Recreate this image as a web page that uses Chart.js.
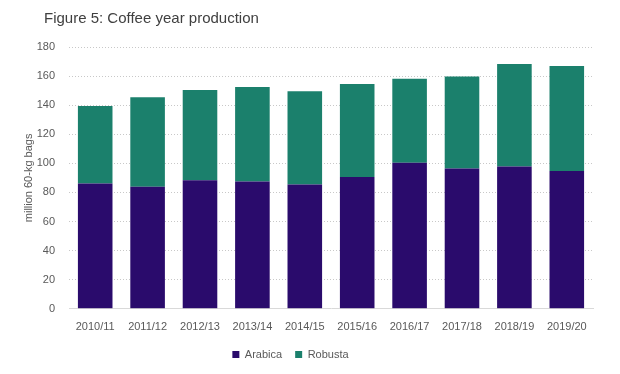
<!DOCTYPE html>
<html>
<head>
<meta charset="utf-8">
<script src="https://cdn.jsdelivr.net/npm/chart.js@4"></script>
<style>
  html, body { margin: 0; padding: 0; background: #fff; }
  #wrap { width: 620px; height: 374px; }
</style>
</head>
<body>
<div id="wrap"><canvas id="coffeeChart" width="620" height="374"></canvas></div>
<script>
// Dados (milhões de sacas de 60 kg)
const seasons = ['2010/11', '2011/12', '2012/13', '2013/14', '2014/15', '2015/16', '2016/17', '2017/18', '2018/19', '2019/20'];
const arabica = [86.1, 84.0, 88.4, 87.5, 85.4, 90.7, 100.5, 96.4, 97.8, 94.8];
const robusta = [53.4, 61.4, 62.0, 65.0, 64.1, 63.9, 57.7, 63.4, 70.5, 72.1];
const yTicks = [0, 20, 40, 60, 80, 100, 120, 140, 160, 180];

const fontFamily = '"Liberation Sans", Arial, sans-serif';
const textColor = '#595959';

// Ajusta a posição do título e da legenda, como no original
const blockShift = {
  id: 'blockShift',
  afterLayout(chart) {
    if (chart.legend) {
      chart.legend.right -= 12;
      chart.legend.top -= 4;
      chart.legend.bottom -= 4;
    }
    if (chart.titleBlock) chart.titleBlock.left += 44;
  }
};

const config = {
  type: 'bar',
  data: {
    labels: seasons,
    datasets: [
      {
        label: 'Arabica',
        data: arabica,
        backgroundColor: '#2a0b6c',
        borderWidth: 0,
        categoryPercentage: 1,
        barPercentage: 0.66
      },
      {
        label: 'Robusta',
        data: robusta,
        backgroundColor: '#1b806c',
        borderWidth: 0,
        categoryPercentage: 1,
        barPercentage: 0.66
      }
    ]
  },
  options: {
    responsive: false,
    animation: false,
    layout: { padding: { left: 0, right: 27, top: 0, bottom: 0 } },
    plugins: {
      title: {
        display: true,
        text: 'Figure 5: Coffee year production',
        align: 'start',
        color: '#404040',
        font: { family: fontFamily, size: 15, weight: 'normal' },
        padding: { top: 10, bottom: 19 }
      },
      legend: {
        position: 'bottom',
        labels: {
          color: textColor,
          font: { family: fontFamily, size: 11 },
          boxWidth: 7,
          boxHeight: 7,
          padding: 13
        }
      },
      tooltip: { enabled: false }
    },
    scales: {
      x: {
        stacked: true,
        grid: { display: false, drawTicks: false },
        border: { display: true, color: '#d9d9d9', width: 1 },
        afterFit: axis => { axis.height -= 6; },
        ticks: {
          color: textColor,
          font: { family: fontFamily, size: 11 },
          maxRotation: 0,
          autoSkip: false,
          padding: 12
        }
      },
      y: {
        stacked: true,
        min: 0,
        max: 180,
        afterBuildTicks: axis => { axis.ticks = yTicks.map(v => ({ value: v })); },
        afterFit: axis => { axis.width = 69; },
        grid: {
          color: '#c8c8c8',
          lineWidth: 1,
          drawTicks: false
        },
        border: { display: false, dash: [1, 2] },
        ticks: {
          color: textColor,
          font: { family: fontFamily, size: 11 },
          padding: 14
        },
        title: {
          display: true,
          text: 'million 60-kg bags',
          color: textColor,
          font: { family: fontFamily, size: 11 },
          padding: { top: 22, bottom: 0 }
        }
      }
    }
  },
  plugins: [blockShift]
};

const ctx = document.getElementById('coffeeChart').getContext('2d');
const chartInstance = new Chart(ctx, config);
</script>
</body>
</html>
